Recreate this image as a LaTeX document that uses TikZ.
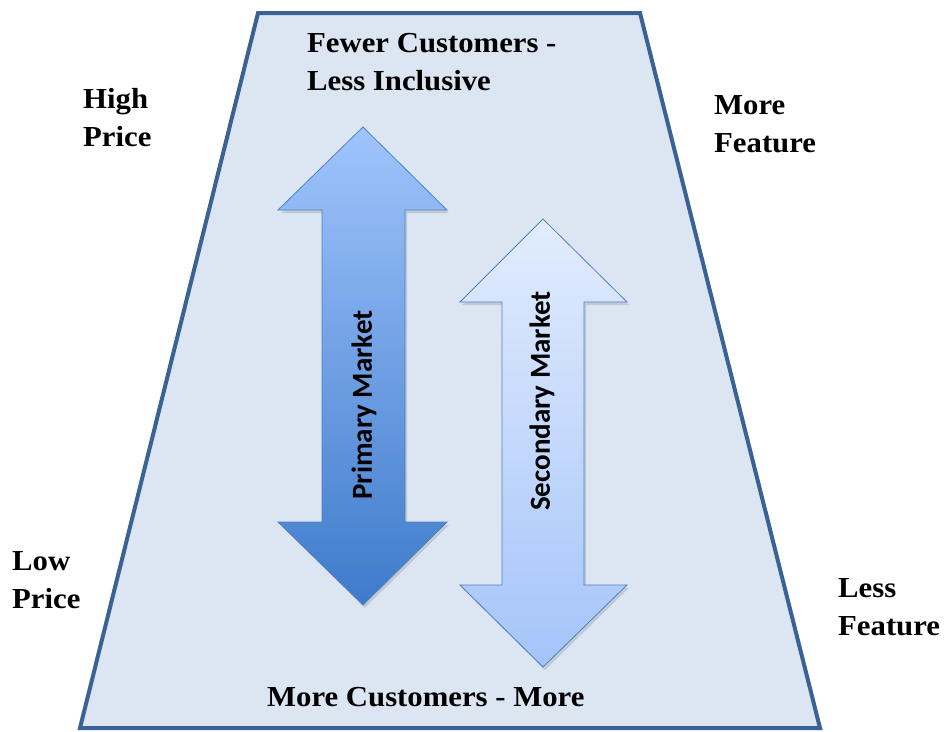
\documentclass[tikz,border=0pt]{standalone}
\usepackage{fontspec}
\setmainfont{Liberation Serif}[FakeStretch=1.06]
\newfontfamily\arrowfont{Carlito}
\begin{document}
\begin{tikzpicture}[x=1pt,y=-1pt,
  frame/.style={draw=frameblue,line width=4pt,fill=panelfill,line join=miter},
  sidelabel/.style={font=\bfseries\fontsize{29}{38}\selectfont,anchor=base west,inner sep=0pt,align=left},
  arrowlabel/.style={font=\arrowfont\bfseries\fontsize{29}{32}\selectfont,rotate=90,inner sep=0pt},
  bigarrow/.style={draw=arrowedge,line width=0.8pt,line join=miter}]
\definecolor{frameblue}{HTML}{3B6294}
\definecolor{panelfill}{HTML}{DCE6F2}
\definecolor{arrowedge}{HTML}{4F81BD}
\definecolor{primtop}{HTML}{A0C4FC}
\definecolor{primbot}{HTML}{3E7BCB}
\definecolor{sectop}{HTML}{E2ECFD}
\definecolor{secbot}{HTML}{A4C4FA}
\useasboundingbox (0,0) rectangle (947,731);
\fill[white] (0,0) rectangle (947,731);

% market funnel
\path[frame] (258,13) -- (640,13) -- (820,728) -- (80,728) -- cycle;

% primary market double arrow
\path[fill=black,opacity=0.12] (365,130) -- (449,213) -- (407,213) -- (407,525) -- (449,525) -- (365,608) -- (281,525) -- (324,525) -- (324,213) -- (281,213) -- cycle;
\path[bigarrow,top color=primtop,bottom color=primbot]
  (363,127) -- (447,210) -- (405,210) -- (405,522) -- (447,522) -- (363,605)
  -- (278,522) -- (322,522) -- (322,210) -- (278,210) -- cycle;
\node[arrowlabel] (primary) at (364,405) {Primary Market};

% secondary market double arrow
\path[fill=black,opacity=0.12] (545,222) -- (629,305) -- (586,305) -- (586,588) -- (629,588) -- (545,670) -- (462,588) -- (504,588) -- (504,305) -- (462,305) -- cycle;
\path[bigarrow,top color=sectop,bottom color=secbot]
  (543,219) -- (627,302) -- (584,302) -- (584,585) -- (627,585) -- (543,667)
  -- (460,585) -- (502,585) -- (502,302) -- (460,302) -- cycle;
\node[arrowlabel] (secondary) at (542,401) {Secondary Market};

% labels (anchored at the baseline of their last line)
\node[sidelabel] (fewer) at (307,90) {Fewer Customers -\\Less Inclusive};
\node[sidelabel] (high) at (83,146) {High\\Price};
\node[sidelabel] (morefeat) at (714,152) {More\\Feature};
\node[sidelabel] (low) at (12,608) {Low\\Price};
\node[sidelabel] (lessfeat) at (838,635) {Less\\Feature};
\node[sidelabel] (more) at (267,706) {More Customers - More};
\end{tikzpicture}
\end{document}
